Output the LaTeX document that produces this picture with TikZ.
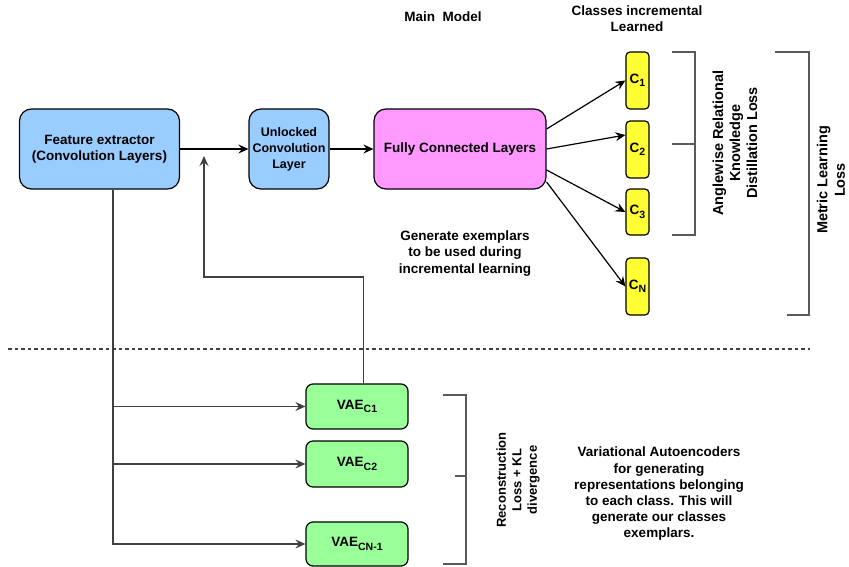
\documentclass[tikz,border=0pt]{standalone}
\usepackage{fontspec}
\setmainfont{Liberation Sans}
\usetikzlibrary{arrows.meta,calc}
\definecolor{fblue}{HTML}{99CCFF}
\definecolor{fpink}{HTML}{FF99FF}
\definecolor{fyel}{HTML}{FFFF33}
\definecolor{fgreen}{HTML}{99FF99}
\definecolor{lgray}{HTML}{404040}
\definecolor{bgray}{HTML}{5A5A5A}
\newcommand{\mysub}[1]{\raisebox{-3.5pt}{\fontsize{10.5}{12}\selectfont #1}}
\begin{document}
\begin{tikzpicture}[x=1pt,y=-1pt,
  box/.style={draw=black, line width=1.2pt, inner sep=0pt, align=center, font=\bfseries\fontsize{13.5}{16.3}\selectfont},
  cbox/.style={box, fill=fyel, rounded corners=4pt, minimum width=23pt},
  vbox/.style={box, fill=fgreen, rounded corners=7pt, minimum width=102pt},
  txt/.style={inner sep=0pt, align=center, font=\bfseries\fontsize{13.5}{16.2}\selectfont},
  arr/.style={draw=black, line width=1.2pt, -{Stealth[length=10pt,width=9pt,inset=3.5pt]}},
  garr/.style={draw=lgray, line width=1.2pt, -{Stealth[length=10pt,width=9pt,inset=3.5pt]}},
  brk/.style={draw=bgray, line width=1.2pt},
  dline/.style={draw=lgray, line width=1.2pt, dash pattern=on 3.5pt off 3pt}
]
\useasboundingbox (0,0) rectangle (849,567);
\fill[white] (0,0) rectangle (849,567);

% main model boxes
\node[box, fill=fblue, rounded corners=12pt, minimum width=160pt, minimum height=80pt] (fe) at (99.5,149) {Feature extractor\\(Convolution Layers)};
\node[box, fill=fblue, rounded corners=12pt, minimum width=80pt, minimum height=80pt, font=\bfseries\fontsize{12.5}{16.2}\selectfont] (ucl) at (289,149) {Unlocked\\Convolution\\Layer};
\node[box, fill=fpink, rounded corners=12pt, minimum width=172pt, minimum height=80pt] (fcl) at (460,149) {Fully Connected Layers};

% class boxes
\node[cbox, minimum height=57pt] (c1) at (637.5,80.5) {C\mysub{1}};
\node[cbox, minimum height=57pt] (c2) at (637.5,149.5) {C\mysub{2}};
\node[cbox, minimum height=46pt] (c3) at (637.5,212) {C\mysub{3}};
\node[cbox, minimum height=57pt] (cn) at (637.5,286.5) {C\mysub{N}};

% VAE boxes
\node[vbox, minimum height=45pt] (v1) at (357,406.5) {VAE\mysub{C1}};
\node[vbox, minimum height=46pt] (v2) at (357,464) {VAE\mysub{C2}};
\node[vbox, minimum height=44pt] (v3) at (357,544) {VAE\mysub{CN-1}};

% connectors main
\draw[arr] (fe.east) -- (ucl.west);
\draw[arr] (ucl.east) -- (fcl.west);
\draw[arr] ([yshift=20pt]fcl.east) -- (c1.west);
\draw[arr] (fcl.east) -- ([yshift=14.5pt]c2.west);
\draw[arr] ([yshift=-21pt]fcl.east) -- (c3.west);
\draw[arr] ([yshift=-33pt]fcl.east) -- (cn.west);

% feedback from VAE
\coordinate (u1) at (204,277);
\coordinate (u2) at (204,156);
\draw[garr] ([xshift=6.5pt]v1.north) |- (u1) -- (u2);

% trunk to VAEs
\coordinate (t) at ([xshift=13.5pt]fe.south);
\draw[garr] (t) |- (v3.west);
\draw[garr] (t |- v1.west) -- (v1.west);
\draw[garr] (t |- v2.west) -- (v2.west);

% separator
\coordinate (d1) at (8,349);
\coordinate (d2) at (810,349);
\draw[dline] (d1) -- (d2);

% brackets
\draw[brk] (672,52) -- (695,52) -- (695,235) -- (672,235);
\draw[brk] (672,144) -- (695,144);
\draw[brk] (775,52) -- (809,52) -- (809,315) -- (787,315);
\draw[brk] (443,395) -- (466,395) -- (466,564) -- (443,564);
\draw[brk] (455,476) -- (466,476);

% texts
\node[txt] (mm) at (443,17) {Main\ \ Model};
\node[txt] (cil) at (637,18.5) {Classes incremental\\Learned};
\node[txt] (ge) at (465,253.5) {Generate exemplars\\to be used during\\incremental learning};
\node[txt, rotate=90, font=\bfseries\fontsize{14.5}{17}\selectfont] (ar) at (735,143) {Anglewise Relational\\Knowledge\\Distillation Loss};
\node[txt, rotate=90, font=\bfseries\fontsize{14.5}{17.5}\selectfont] (ml) at (831,180) {Metric Learning\\Loss};
\node[txt, rotate=90, font=\bfseries\fontsize{13}{15.5}\selectfont] (rl) at (518,480) {Reconstruction\\Loss + KL\\divergence};
\node[txt] (va) at (659,494) {Variational Autoencoders\\for generating\\representations belonging\\to each class. This will\\generate our classes\\exemplars.};
\end{tikzpicture}
\end{document}
